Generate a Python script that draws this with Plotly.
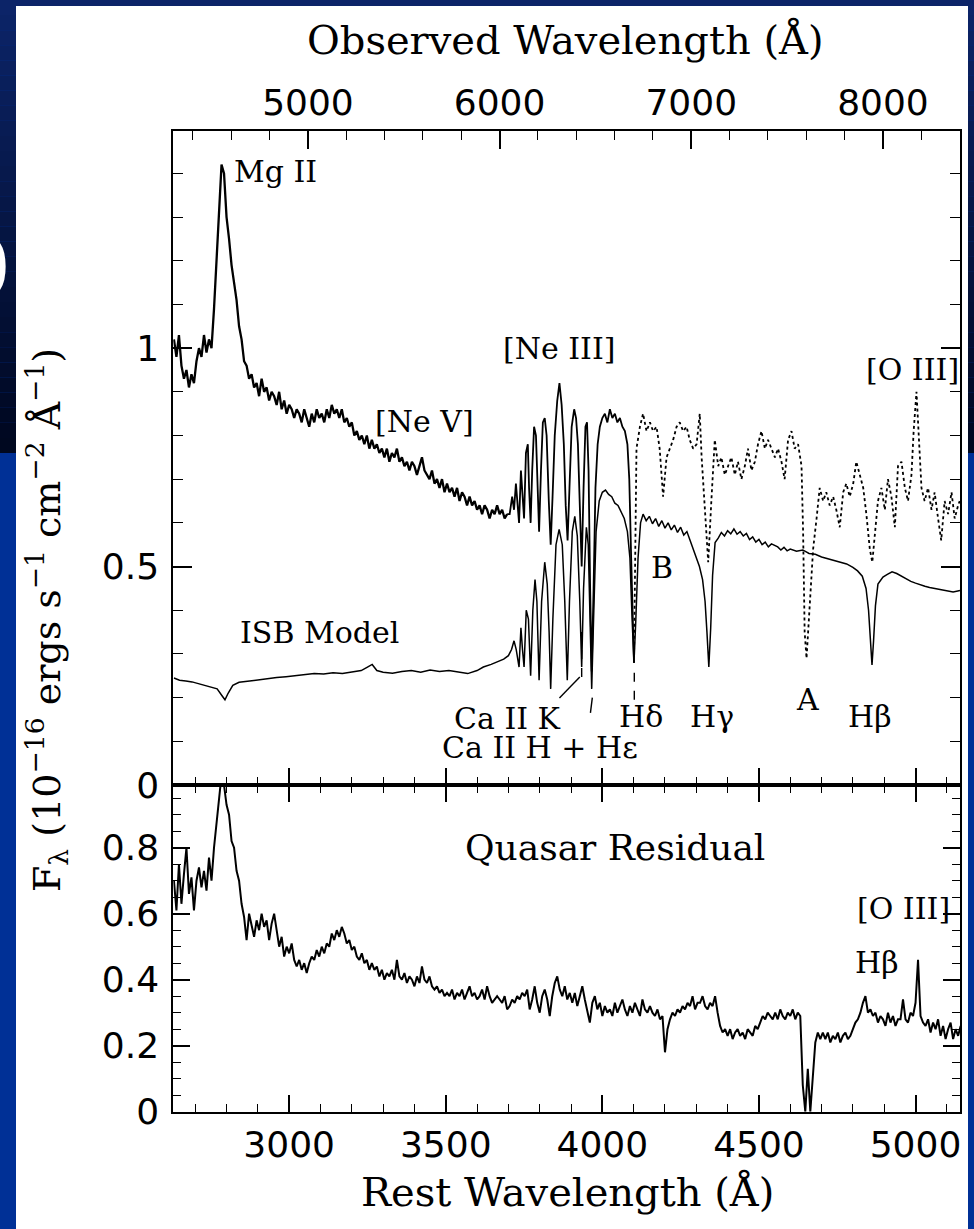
import numpy as np
import plotly.graph_objects as go

W, H = 974, 1229
ONE_PLUS_Z = 1.634          # observed / rest wavelength
X_RANGE = [2630, 5142]      # rest wavelength (Å)

# ---------------- spectra ----------------
# Observed total spectrum, blue part (regular 8 Å sampling from 2632 Å)
total_x0, total_dx = 2632, 8
total_flux = [
    1.02, 0.98, 1.03, 0.96, 0.93, 0.95, 0.91, 0.94, 0.92, 0.97,
    1.00, 0.98, 1.03, 0.99, 1.02, 1.00, 1.09, 1.21, 1.33, 1.42,
    1.40, 1.30, 1.25, 1.19, 1.15, 1.11, 1.05, 1.02, 0.97, 0.96,
    0.93, 0.94, 0.91, 0.92, 0.89, 0.93, 0.90, 0.91, 0.88, 0.90,
    0.89, 0.87, 0.90, 0.86, 0.88, 0.85, 0.87, 0.86, 0.84, 0.86,
    0.85, 0.83, 0.86, 0.84, 0.82, 0.85, 0.83, 0.86, 0.84, 0.85,
    0.83, 0.86, 0.84, 0.87, 0.85, 0.86, 0.84, 0.86, 0.83, 0.84,
    0.82, 0.83, 0.80, 0.81, 0.79, 0.80, 0.78, 0.80, 0.77, 0.79,
    0.77, 0.78, 0.76, 0.77, 0.75, 0.77, 0.74, 0.76, 0.75, 0.77,
    0.74, 0.75, 0.73, 0.74, 0.72, 0.74, 0.73, 0.71, 0.73, 0.75,
    0.72, 0.71, 0.70, 0.72, 0.69, 0.70, 0.68, 0.70, 0.67, 0.69,
    0.67, 0.68, 0.66, 0.68, 0.65, 0.67, 0.66, 0.64, 0.66, 0.64,
    0.65, 0.63, 0.64, 0.62, 0.64, 0.63, 0.61, 0.63, 0.62, 0.64,
    0.62, 0.63, 0.61, 0.62,
]
# Observed total spectrum across the Balmer series (solid)
balmer_wave = [
    3704, 3712, 3718, 3724, 3730, 3734, 3740, 3746, 3750, 3756, 3762, 3766,
    3771, 3776, 3782, 3788, 3793, 3798, 3804, 3810, 3816, 3822, 3829, 3835,
    3841, 3848, 3856, 3863, 3870, 3877, 3883, 3889, 3895, 3902, 3910, 3916,
    3922, 3928, 3934, 3940, 3946, 3951, 3956, 3961, 3966, 3972, 3978, 3985,
    3992, 4000, 4008, 4016, 4024, 4032, 4040, 4048, 4056, 4064, 4072, 4080,
    4086, 4092, 4097, 4101,
]
balmer_total = [
    0.62, 0.66, 0.63, 0.69, 0.62, 0.60, 0.72, 0.64, 0.61, 0.76, 0.78, 0.68,
    0.60, 0.72, 0.82, 0.80, 0.66, 0.58, 0.72, 0.83, 0.84, 0.80, 0.65, 0.55,
    0.66, 0.80, 0.88, 0.92, 0.87, 0.78, 0.64, 0.56, 0.68, 0.82, 0.86, 0.84,
    0.78, 0.64, 0.50, 0.68, 0.82, 0.83, 0.72, 0.45, 0.26, 0.45, 0.68, 0.78,
    0.82, 0.84, 0.85, 0.83, 0.86, 0.84, 0.85, 0.83, 0.84, 0.82, 0.81, 0.78,
    0.70, 0.52, 0.35, 0.28,
]
# Observed total spectrum, red part affected by telluric bands (dotted)
red_wave = [
    4101, 4109, 4120, 4130, 4141, 4152, 4162, 4173, 4183, 4194, 4205, 4215,
    4226, 4237, 4247, 4258, 4269, 4279, 4290, 4301, 4311, 4317, 4327, 4338,
    4348, 4359, 4370, 4380, 4391, 4402, 4412, 4423, 4433, 4444, 4455, 4465,
    4476, 4487, 4497, 4508, 4519, 4529, 4540, 4551, 4561, 4572, 4582, 4593,
    4604, 4614, 4625, 4636, 4641, 4646, 4652, 4662, 4673, 4684, 4694, 4705,
    4715, 4726, 4737, 4747, 4758, 4769, 4779, 4790, 4801, 4811, 4822, 4833,
    4843, 4854, 4862, 4870, 4880, 4891, 4902, 4912, 4923, 4934, 4944, 4955,
    4966, 4976, 4987, 4994, 5003, 5011, 5019, 5029, 5040, 5051, 5061, 5072,
    5082, 5093, 5104, 5115, 5125, 5136, 5141,
]
red_total = [
    0.28, 0.77, 0.82, 0.85, 0.81, 0.83, 0.81, 0.82, 0.77, 0.66, 0.75, 0.77,
    0.79, 0.82, 0.83, 0.81, 0.82, 0.79, 0.77, 0.78, 0.85, 0.75, 0.64, 0.51,
    0.65, 0.79, 0.73, 0.75, 0.71, 0.73, 0.75, 0.71, 0.74, 0.70, 0.73, 0.77,
    0.72, 0.74, 0.78, 0.81, 0.77, 0.79, 0.77, 0.75, 0.77, 0.74, 0.70, 0.79,
    0.81, 0.77, 0.78, 0.73, 0.58, 0.35, 0.29, 0.42, 0.54, 0.61, 0.68, 0.65,
    0.67, 0.64, 0.66, 0.63, 0.59, 0.67, 0.69, 0.66, 0.69, 0.74, 0.71, 0.68,
    0.62, 0.54, 0.51, 0.58, 0.65, 0.68, 0.63, 0.70, 0.66, 0.59, 0.73, 0.74,
    0.68, 0.65, 0.71, 0.81, 0.90, 0.79, 0.68, 0.65, 0.68, 0.63, 0.67, 0.61,
    0.56, 0.65, 0.62, 0.67, 0.61, 0.64, 0.65,
]
# Instantaneous-starburst model
model_wave = [
    2632, 2650, 2670, 2690, 2710, 2730, 2750, 2770, 2785, 2795, 2805, 2820,
    2840, 2870, 2900, 2930, 2960, 2990, 3020, 3050, 3080, 3110, 3140, 3170,
    3200, 3230, 3250, 3265, 3280, 3300, 3330, 3360, 3390, 3420, 3450, 3480,
    3510, 3540, 3570, 3600, 3620, 3645, 3665, 3685, 3700, 3710, 3718, 3725,
    3734, 3740, 3745, 3750, 3757, 3764, 3771, 3778, 3785, 3791, 3798, 3806,
    3816, 3824, 3830, 3835, 3842, 3852, 3862, 3872, 3880, 3888, 3895, 3904,
    3912, 3920, 3928, 3934, 3940, 3949, 3955, 3961, 3966, 3972, 3980, 3990,
    4000, 4010, 4020, 4030, 4040, 4050, 4060, 4070, 4080, 4088, 4095, 4101,
    4107, 4114, 4122, 4130, 4140, 4150, 4160, 4170, 4180, 4190, 4200, 4210,
    4220, 4230, 4240, 4250, 4260, 4270, 4280, 4290, 4300, 4310, 4320, 4328,
    4334, 4340, 4346, 4352, 4360, 4370, 4380, 4390, 4400, 4410, 4420, 4430,
    4440, 4450, 4460, 4470, 4480, 4490, 4500, 4510, 4520, 4530, 4540, 4550,
    4560, 4570, 4580, 4590, 4600, 4620, 4640, 4660, 4680, 4700, 4720, 4740,
    4760, 4780, 4800, 4815, 4830, 4842, 4850, 4856, 4861, 4866, 4872, 4880,
    4896, 4910, 4925, 4940, 4955, 4970, 4985, 5000, 5015, 5030, 5045, 5060,
    5075, 5090, 5105, 5120, 5135, 5142,
]
model_flux = [
    0.245, 0.240, 0.238, 0.236, 0.232, 0.228, 0.225, 0.220, 0.205, 0.195, 0.210, 0.228,
    0.235, 0.238, 0.240, 0.244, 0.246, 0.248, 0.250, 0.252, 0.255, 0.254, 0.257, 0.255,
    0.258, 0.262, 0.270, 0.276, 0.262, 0.258, 0.256, 0.260, 0.262, 0.258, 0.263, 0.260,
    0.262, 0.258, 0.255, 0.262, 0.270, 0.276, 0.282, 0.288, 0.296, 0.310, 0.330, 0.310,
    0.270, 0.360, 0.310, 0.270, 0.400, 0.380, 0.250, 0.400, 0.470, 0.420, 0.240, 0.420,
    0.510, 0.460, 0.350, 0.220, 0.380, 0.550, 0.585, 0.550, 0.420, 0.240, 0.420, 0.580,
    0.615, 0.570, 0.420, 0.270, 0.450, 0.590, 0.550, 0.380, 0.220, 0.380, 0.580, 0.650,
    0.670, 0.675, 0.665, 0.660, 0.645, 0.640, 0.625, 0.610, 0.580, 0.520, 0.380, 0.280,
    0.380, 0.520, 0.600, 0.620, 0.605, 0.615, 0.598, 0.610, 0.592, 0.605, 0.588, 0.600,
    0.584, 0.595, 0.578, 0.590, 0.572, 0.580, 0.560, 0.540, 0.520, 0.500, 0.470, 0.420,
    0.350, 0.270, 0.360, 0.480, 0.555, 0.565, 0.578, 0.570, 0.582, 0.575, 0.586, 0.574,
    0.580, 0.570, 0.576, 0.562, 0.568, 0.556, 0.562, 0.550, 0.556, 0.545, 0.552, 0.548,
    0.545, 0.538, 0.544, 0.536, 0.540, 0.535, 0.538, 0.530, 0.528, 0.522, 0.518, 0.514,
    0.510, 0.506, 0.498, 0.490, 0.478, 0.450, 0.400, 0.330, 0.275, 0.330, 0.410, 0.460,
    0.476, 0.482, 0.488, 0.484, 0.478, 0.472, 0.466, 0.462, 0.458, 0.455, 0.452, 0.450,
    0.447, 0.446, 0.444, 0.442, 0.444, 0.445,
]
# Quasar residual (total minus model), regular 8 Å sampling from 2632 Å
resid_x0, resid_dx = 2632, 8
resid_flux = [
    0.70, 0.61, 0.75, 0.63, 0.72, 0.80, 0.66, 0.71, 0.61, 0.70,
    0.74, 0.68, 0.73, 0.67, 0.77, 0.70, 0.80, 0.88, 0.97, 1.02,
    0.99, 0.93, 0.90, 0.82, 0.80, 0.73, 0.70, 0.63, 0.59, 0.52,
    0.60, 0.56, 0.53, 0.58, 0.55, 0.60, 0.56, 0.58, 0.52, 0.57,
    0.60, 0.55, 0.50, 0.53, 0.47, 0.50, 0.48, 0.51, 0.46, 0.44,
    0.46, 0.43, 0.45, 0.42, 0.45, 0.47, 0.46, 0.49, 0.47, 0.50,
    0.48, 0.51, 0.50, 0.54, 0.52, 0.55, 0.53, 0.56, 0.54, 0.51,
    0.52, 0.49, 0.50, 0.47, 0.46, 0.48, 0.45, 0.46, 0.43, 0.45,
    0.43, 0.44, 0.41, 0.43, 0.40, 0.42, 0.41, 0.43, 0.40, 0.46,
    0.41, 0.40, 0.42, 0.39, 0.41, 0.40, 0.38, 0.41, 0.39, 0.44,
    0.40, 0.39, 0.41, 0.38, 0.37, 0.38, 0.36, 0.37, 0.35, 0.36,
    0.35, 0.37, 0.34, 0.36, 0.35, 0.37, 0.34, 0.36, 0.38, 0.35,
    0.36, 0.34, 0.35, 0.37, 0.34, 0.38, 0.35, 0.33, 0.34, 0.35,
    0.34, 0.33, 0.35, 0.31, 0.32, 0.34, 0.33, 0.35, 0.34, 0.36,
    0.35, 0.37, 0.31, 0.34, 0.38, 0.33, 0.30, 0.35, 0.37, 0.34,
    0.29, 0.35, 0.39, 0.41, 0.37, 0.35, 0.38, 0.34, 0.36, 0.33,
    0.36, 0.32, 0.35, 0.38, 0.34, 0.30, 0.27, 0.33, 0.35, 0.31,
    0.33, 0.29, 0.32, 0.30, 0.31, 0.29, 0.33, 0.30, 0.32, 0.34,
    0.31, 0.29, 0.32, 0.30, 0.33, 0.31, 0.29, 0.34, 0.31, 0.30,
    0.32, 0.30, 0.29, 0.31, 0.28, 0.29, 0.18, 0.25, 0.28, 0.30,
    0.29, 0.31, 0.30, 0.32, 0.31, 0.33, 0.32, 0.35, 0.31, 0.33,
    0.33, 0.35, 0.32, 0.31, 0.33, 0.32, 0.35, 0.30, 0.26, 0.24,
    0.25, 0.23, 0.25, 0.22, 0.24, 0.25, 0.23, 0.24, 0.22, 0.25,
    0.24, 0.23, 0.26, 0.25, 0.27, 0.29, 0.28, 0.30, 0.29, 0.28,
    0.30, 0.28, 0.31, 0.29, 0.28, 0.30, 0.29, 0.31, 0.28, 0.30,
    0.29, 0.08, 0.00, 0.13, 0.00, 0.12, 0.21, 0.24, 0.22, 0.24,
    0.22, 0.24, 0.21, 0.23, 0.22, 0.24, 0.21, 0.23, 0.24, 0.22,
    0.23, 0.25, 0.27, 0.28, 0.30, 0.33, 0.35, 0.30, 0.31, 0.29,
    0.30, 0.27, 0.29, 0.28, 0.26, 0.30, 0.27, 0.29, 0.26, 0.28,
    0.28, 0.34, 0.28, 0.27, 0.30, 0.29, 0.33, 0.46, 0.29, 0.27,
    0.26, 0.28, 0.24, 0.27, 0.25, 0.28, 0.23, 0.26, 0.22, 0.25,
    0.27, 0.22, 0.25, 0.23, 0.26,
]

# ---------------- labels ----------------
# (text, rest wavelength, flux, anchor) in the upper panel
upper_labels = [
    ("Mg II", 2818, 1.405, "left"),
    ("[Ne V]", 3433, 0.833, "center"),
    ("[Ne III]", 3864, 1.000, "center"),
    ("[O III]", 4990, 0.950, "center"),
    ("B", 4189, 0.499, "center"),
    ("ISB Model", 3098, 0.348, "center"),
    ("Ca II K", 3698, 0.153, "center"),
    ("Hδ", 4123, 0.156, "center"),
    ("Hγ", 4350, 0.156, "center"),
    ("A", 4656, 0.195, "center"),
    ("Hβ", 4854, 0.156, "center"),
    ("Ca II H + Hε", 3800, 0.085, "center"),
]
lower_labels = [
    ("Quasar Residual", 4039, 0.800),
    ("[O III]", 4960, 0.617),
    ("Hβ", 4877, 0.453),
]
# line-identification ticks: (x0, y0, x1, y1, dash)
id_marks = [
    (3863, 0.199, 3928, 0.247, "solid"),   # Ca II K leader
    (3934, 0.247, 3934, 0.350, "dash"),    # Ca II K
    (3962, 0.165, 3968, 0.200, "solid"),   # Ca II H + He
    (4102, 0.195, 4102, 0.258, "dash"),    # H delta
]

# ---------------- layout geometry (pixels) ----------------
px_left, px_right = 173.3, 960.0
px_top, px_mid, px_bot = 131.0, 785.0, 1111.7
xd = [px_left / W, px_right / W]
yd_up = [1 - px_mid / H, 1 - px_top / H]
yd_lo = [1 - px_bot / H, 1 - px_mid / H]

fig = go.Figure()

noisy_kw = dict(color="black", width=2.3)
fig.add_trace(go.Scatter(
    x=total_x0 + total_dx * np.arange(len(total_flux)), y=total_flux,
    mode="lines", line=noisy_kw, xaxis="x", yaxis="y", hoverinfo="skip"))
fig.add_trace(go.Scatter(
    x=[total_x0 + total_dx * (len(total_flux) - 1)] + balmer_wave,
    y=[total_flux[-1]] + balmer_total,
    mode="lines", line=dict(color="black", width=1.8),
    xaxis="x", yaxis="y", hoverinfo="skip"))
fig.add_trace(go.Scatter(
    x=red_wave, y=red_total, mode="lines",
    line=dict(color="black", width=1.8, dash="dot"),
    xaxis="x", yaxis="y", hoverinfo="skip"))
fig.add_trace(go.Scatter(
    x=model_wave, y=model_flux, mode="lines",
    line=dict(color="black", width=1.5), xaxis="x", yaxis="y", hoverinfo="skip"))
fig.add_trace(go.Scatter(
    x=resid_x0 + resid_dx * np.arange(len(resid_flux)), y=resid_flux,
    mode="lines", line=dict(color="black", width=2.0),
    xaxis="x2", yaxis="y2", hoverinfo="skip"))
# empty trace so the observed-wavelength axis gets drawn
fig.add_trace(go.Scatter(x=[], y=[], xaxis="x3", yaxis="y",
                         hoverinfo="skip"))

# ---------------- slide background ----------------
shapes = []
navy_top, navy_bot = np.array([12, 36, 104]), np.array([0, 8, 32])
n_strips, navy_h = 30, 453
for i in range(n_strips):
    t = i / (n_strips - 1)
    c = (navy_top * (1 - t) + navy_bot * t).astype(int)
    shapes.append(dict(
        type="rect", xref="paper", yref="paper", layer="below",
        x0=0, x1=1, y0=1 - (i + 1) * navy_h / n_strips / H,
        y1=1 - i * navy_h / n_strips / H,
        line=dict(width=0), fillcolor=f"rgb({c[0]},{c[1]},{c[2]})"))
shapes.append(dict(
    type="rect", xref="paper", yref="paper", layer="below",
    x0=16 / W, x1=968 / W, y0=0, y1=1 - 6 / H,
    line=dict(width=0), fillcolor="white"))
for x0, y0, x1, y1, dash in id_marks:
    shapes.append(dict(type="line", xref="x", yref="y", x0=x0, y0=y0,
                       x1=x1, y1=y1, line=dict(color="black", width=1.4,
                                               dash=dash)))

annotations = []
serif = "DejaVu Serif"
for text, xw, yv, anchor in upper_labels:
    annotations.append(dict(
        x=xw, y=yv, xref="x", yref="y", text=text, showarrow=False,
        xanchor=anchor, yanchor="middle",
        font=dict(family=serif, size=30, color="black")))
for text, xw, yv in lower_labels:
    annotations.append(dict(
        x=xw, y=yv, xref="x2", yref="y2", text=text, showarrow=False,
        xanchor="center", yanchor="middle",
        font=dict(family=serif, size=36 if "Quasar" in text else 30,
                  color="black")))
annotations += [
    dict(x=565 / W, y=1 - 40 / H, xref="paper", yref="paper",
         xanchor="center", yanchor="middle",
         text="Observed Wavelength (Å)", showarrow=False,
         font=dict(family=serif, size=40, color="black")),
    dict(x=567 / W, y=1 - 1192 / H, xref="paper", yref="paper",
         xanchor="center", yanchor="middle",
         text="Rest Wavelength (Å)", showarrow=False,
         font=dict(family=serif, size=40, color="black")),
    dict(x=46 / W, y=1 - 620 / H, xref="paper", yref="paper", textangle=-90,
         xanchor="center", yanchor="middle",
         text="F<sub>λ</sub> (10<sup>−16</sup> ergs s<sup>−1</sup> "
              "cm<sup>−2</sup> Å<sup>−1</sup>)",
         showarrow=False, font=dict(family=serif, size=38, color="black")),
    dict(x=-15 / W, y=1 - 269 / H, xref="paper", yref="paper", text="0",
         showarrow=False, xanchor="center", yanchor="middle",
         font=dict(family="DejaVu Sans", size=80, color="white")),
]

tickfont = dict(family="DejaVu Sans", size=36, color="black")
common = dict(showline=True, linecolor="black", linewidth=2, ticks="inside",
              tickcolor="black", tickwidth=1.6, showgrid=False,
              zeroline=False, tickfont=tickfont, automargin=False)

fig.update_layout(
    width=W, height=H,
    margin=dict(l=0, r=0, t=0, b=0, pad=0, autoexpand=False),
    paper_bgcolor="rgb(0,48,150)", plot_bgcolor="rgba(0,0,0,0)",
    showlegend=False, shapes=shapes, annotations=annotations,
    xaxis=dict(domain=xd, anchor="y", range=X_RANGE, showticklabels=False,
               tick0=0, dtick=500, ticklen=17,
               minor=dict(ticks="inside", dtick=100, tick0=0, ticklen=8,
                          tickcolor="black", tickwidth=1.4),
               **common),
    xaxis3=dict(overlaying="x", side="top", anchor="y",
                range=[X_RANGE[0] * ONE_PLUS_Z, X_RANGE[1] * ONE_PLUS_Z],
                tick0=0, dtick=1000, ticklen=18, ticklabelstandoff=0,
                minor=dict(ticks="inside", dtick=200, tick0=0, ticklen=9,
                           tickcolor="black", tickwidth=1.4),
                **common),
    yaxis=dict(domain=yd_up, anchor="x", range=[0, 1.497], tick0=0,
               dtick=0.5, ticklen=19, mirror="ticks", ticklabelstandoff=5,
               minor=dict(ticks="inside", dtick=0.1, tick0=0, ticklen=10,
                          tickcolor="black", tickwidth=1.4),
               **common),
    xaxis2=dict(domain=xd, anchor="y2", range=X_RANGE, tick0=0, dtick=500,
                ticklen=17, mirror="ticks", ticklabelstandoff=0,
                minor=dict(ticks="inside", dtick=100, tick0=0, ticklen=8,
                           tickcolor="black", tickwidth=1.4),
                **common),
    yaxis2=dict(domain=yd_lo, anchor="x2", range=[0, 0.99], tick0=0,
                dtick=0.2, ticklen=17, mirror="ticks", ticklabelstandoff=5,
                minor=dict(ticks="inside", dtick=0.05, tick0=0, ticklen=8,
                           tickcolor="black", tickwidth=1.4),
                **common),
)

fig.write_html("out.html")
